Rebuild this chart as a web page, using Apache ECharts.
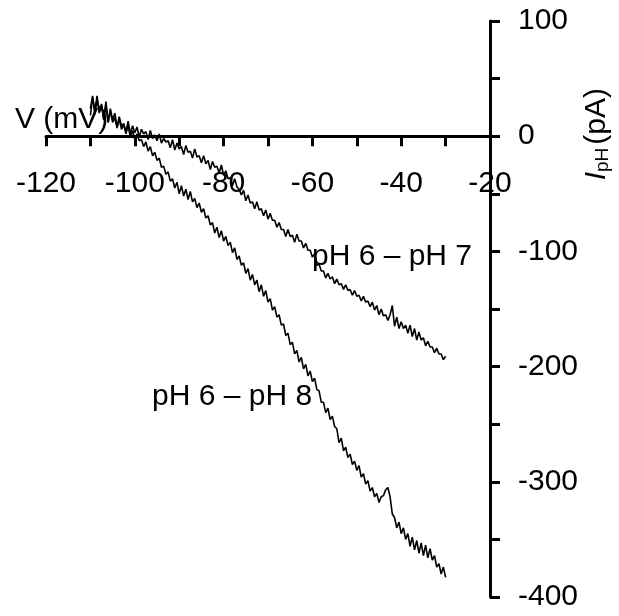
<!DOCTYPE html>
<html>
<head>
<meta charset="utf-8">
<script src="https://cdn.jsdelivr.net/npm/echarts@6/dist/echarts.min.js"></script>
<style>
html,body{margin:0;padding:0;background:#fff;}
#chart{width:619px;height:616px;}
</style>
</head>
<body>
<div id="chart"></div>
<script>
// Membrane voltage (mV)
var voltage = [
-110,-109.5,-109,-108.5,-108,-107.5,-107,-106.5,-106,-105.5,
-105,-104.5,-104,-103.5,-103,-102.5,-102,-101.5,-101,-100.5,
-100,-99.5,-99,-98.5,-98,-97.5,-97,-96.5,-96,-95.5,
-95,-94.5,-94,-93.5,-93,-92.5,-92,-91.5,-91,-90.5,
-90,-89.5,-89,-88.5,-88,-87.5,-87,-86.5,-86,-85.5,
-85,-84.5,-84,-83.5,-83,-82.5,-82,-81.5,-81,-80.5,
-80,-79.5,-79,-78.5,-78,-77.5,-77,-76.5,-76,-75.5,
-75,-74.5,-74,-73.5,-73,-72.5,-72,-71.5,-71,-70.5,
-70,-69.5,-69,-68.5,-68,-67.5,-67,-66.5,-66,-65.5,
-65,-64.5,-64,-63.5,-63,-62.5,-62,-61.5,-61,-60.5,
-60,-59.5,-59,-58.5,-58,-57.5,-57,-56.5,-56,-55.5,
-55,-54.5,-54,-53.5,-53,-52.5,-52,-51.5,-51,-50.5,
-50,-49.5,-49,-48.5,-48,-47.5,-47,-46.5,-46,-45.5,
-45,-44.5,-44,-43.5,-43,-42.5,-42,-41.5,-41,-40.5,
-40,-39.5,-39,-38.5,-38,-37.5,-37,-36.5,-36,-35.5,
-35,-34.5,-34,-33.5,-33,-32.5,-32,-31.5,-31,-30.5,
-30
];
// I_pH (pA), pH 6 -> pH 7
var currentPH7 = [
18,34,22,35,20,28,15,30,12,24,
14,20,8,17,9,11,4,13,2,9,
3,8,-1,6,2,4,-3,5,-2,1,
-4,2,-6,-2,-5,-4,-10,-3,-12,-6,
-11,-9,-16,-8,-14,-13,-19,-11,-18,-17,
-23,-17,-24,-21,-29,-22,-27,-26,-32,-25,
-34,-30,-37,-36,-43,-37,-44,-46,-51,-47,
-56,-51,-58,-57,-63,-57,-64,-63,-69,-64,
-72,-67,-73,-73,-79,-75,-81,-81,-87,-81,
-87,-86,-92,-85,-91,-91,-97,-93,-99,-99,
-105,-102,-112,-111,-117,-117,-123,-119,-124,-122,
-128,-124,-129,-128,-133,-129,-134,-133,-138,-134,
-139,-138,-143,-139,-144,-143,-148,-144,-151,-147,
-155,-150,-156,-155,-160,-155,-147,-165,-157,-167,
-161,-167,-164,-171,-164,-174,-167,-177,-170,-177,
-175,-182,-178,-183,-183,-188,-184,-189,-189,-194,
-191
];
// I_pH (pA), pH 6 -> pH 8
var currentPH8 = [
24,35,19,32,21,27,14,27,12,22,
12,16,7,15,6,10,2,9,-1,5,
-3,2,-4,-3,-9,-5,-13,-9,-17,-14,
-21,-19,-27,-26,-33,-31,-39,-37,-45,-40,
-50,-43,-52,-46,-55,-48,-57,-54,-62,-58,
-66,-63,-71,-69,-77,-75,-84,-79,-88,-82,
-91,-87,-95,-92,-101,-97,-107,-104,-112,-110,
-119,-115,-125,-120,-129,-125,-135,-129,-139,-134,
-144,-141,-151,-148,-157,-155,-164,-163,-173,-171,
-181,-179,-189,-186,-196,-192,-202,-198,-208,-204,
-213,-210,-220,-221,-231,-231,-240,-236,-246,-243,
-252,-254,-266,-262,-273,-270,-279,-276,-285,-282,
-290,-286,-296,-293,-302,-299,-308,-305,-313,-310,
-318,-313,-312,-307,-305,-313,-328,-331,-340,-335,
-345,-340,-350,-345,-356,-348,-359,-351,-362,-353,
-364,-355,-366,-358,-368,-364,-374,-371,-380,-374,
-383
];
var seriesNames = ['pH 6 \u2013 pH 7', 'pH 6 \u2013 pH 8'];
var xTicks = { min: -120, max: -20, step: 10, labelEvery: 20 };
var yTicks = { min: -400, max: 100, step: 50, labelEvery: 100 };

function pairs(xs, ys) { return xs.map(function (x, i) { return [x, ys[i]]; }); }

var W = 619, H = 616;
var G = { left: 46, right: 129, top: 21, bottom: 19 };
var gridH = H - G.top - G.bottom;
// move the x axis up so it crosses the y axis at I = 0
var xAxisOffset = -((0 - yTicks.min) / (yTicks.max - yTicks.min)) * gridH;

var FONT = '"Liberation Sans", Arial, sans-serif';
var chart = echarts.init(document.getElementById('chart'), null, { renderer: 'canvas' });
chart.setOption({
  animation: false,
  backgroundColor: '#fff',
  grid: { left: G.left, right: G.right, top: G.top, bottom: G.bottom, containLabel: false, outerBoundsMode: 'none' },
  xAxis: {
    type: 'value', position: 'bottom', offset: xAxisOffset,
    min: xTicks.min, max: xTicks.max, interval: xTicks.step,
    axisLine: { onZero: false, lineStyle: { color: '#000', width: 3 } },
    axisTick: { show: true, length: 10, lineStyle: { color: '#000', width: 3 } },
    axisLabel: {
      fontSize: 30, color: '#000', fontFamily: FONT, margin: 33,
      formatter: function (v) { return v % xTicks.labelEvery === 0 ? String(v) : ''; }
    },
    splitLine: { show: false }
  },
  yAxis: {
    type: 'value', position: 'right', min: yTicks.min, max: yTicks.max, interval: yTicks.step,
    axisLine: { onZero: false, lineStyle: { color: '#000', width: 3 } },
    axisTick: { show: true, length: 10, lineStyle: { color: '#000', width: 3 } },
    axisLabel: {
      fontSize: 30, color: '#000', fontFamily: FONT, margin: 28,
      formatter: function (v) { return v % yTicks.labelEvery === 0 ? String(v) : ''; }
    },
    splitLine: { show: false }
  },
  series: [
    { name: seriesNames[0], type: 'line', showSymbol: false, data: pairs(voltage, currentPH7),
      lineStyle: { color: '#000', width: 1.6 }, z: 3 },
    { name: seriesNames[1], type: 'line', showSymbol: false, data: pairs(voltage, currentPH8),
      lineStyle: { color: '#000', width: 1.6 }, z: 3 }
  ]
});

var origin = chart.convertToPixel({ gridIndex: 0 }, [-120, 0]);
var yAxisZero = chart.convertToPixel({ gridIndex: 0 }, [-20, 0]);
var lab7 = chart.convertToPixel({ gridIndex: 0 }, [-60.1, -105]);
var lab8 = chart.convertToPixel({ gridIndex: 0 }, [-96.1, -226]);

chart.setOption({
  graphic: [
    { type: 'text', x: origin[0] - 31, y: origin[1] - 16, z: 10,
      style: { text: 'V (mV)', font: '30px ' + FONT, fill: '#000', align: 'left', verticalAlign: 'middle' } },
    { type: 'text', x: yAxisZero[0] + 107, y: yAxisZero[1] - 2, rotation: Math.PI / 2, z: 10,
      style: {
        text: '{i|I}{s|pH}{n|(pA)}', align: 'center', verticalAlign: 'middle', fill: '#000',
        rich: {
          i: { fontSize: 30, fontStyle: 'italic', fontFamily: FONT, fill: '#000', verticalAlign: 'bottom' },
          s: { fontSize: 19, fontFamily: FONT, fill: '#000', verticalAlign: 'bottom', padding: [0, 3, 0, 0] },
          n: { fontSize: 30, fontFamily: FONT, fill: '#000', verticalAlign: 'bottom' }
        }
      } },
    { type: 'text', x: lab7[0], y: lab7[1], z: 10,
      style: { text: seriesNames[0], font: '30px ' + FONT, fill: '#000', align: 'left', verticalAlign: 'middle' } },
    { type: 'text', x: lab8[0], y: lab8[1], z: 10,
      style: { text: seriesNames[1], font: '30px ' + FONT, fill: '#000', align: 'left', verticalAlign: 'middle' } }
  ]
});
</script>
</body>
</html>
